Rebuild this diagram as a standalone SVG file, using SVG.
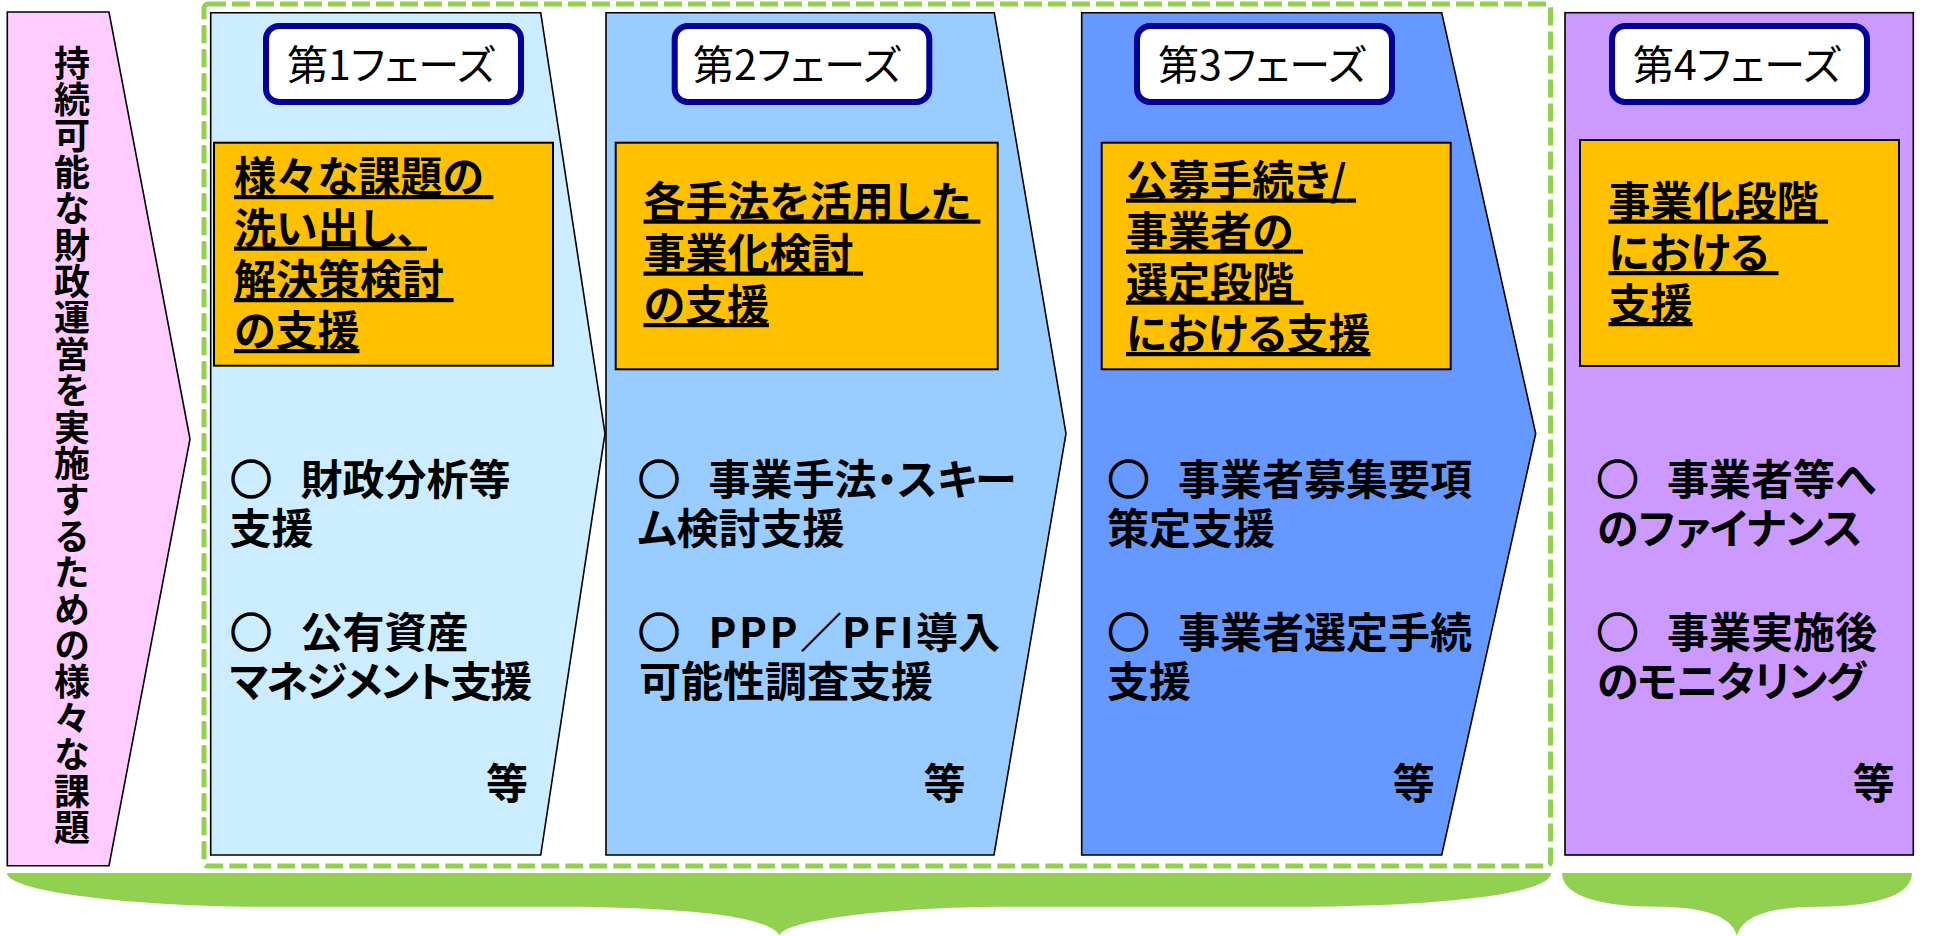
<svg xmlns="http://www.w3.org/2000/svg" width="1951" height="936" viewBox="0 0 1951 936">
<style>
text{font-family:"Noto Sans CJK JP","Noto Sans CJK SC",sans-serif;fill:#000}
.shape{stroke:#000;stroke-width:1.6}
.lbl{fill:#fff;stroke:#000099;stroke-width:6}
.lt{font-size:41px;font-weight:400;text-anchor:middle;font-feature-settings:"palt"}
.ob{fill:#FFC000;stroke:#000;stroke-width:2}
.ot{font-size:42px;font-weight:700;text-decoration:underline;font-feature-settings:"palt"}
.bt{font-size:42px;font-weight:700}
.pa{font-feature-settings:"palt"}
.sp{font-size:28.5px}
.circ{stroke:#000;stroke-width:1.6}
.lat{letter-spacing:2.5px}
.etc{font-size:42px;font-weight:700;text-anchor:end}
.vt{font-size:36px;font-weight:700;writing-mode:vertical-rl;letter-spacing:0.4px}
.brace{fill:#92D050}
.frame{fill:none;stroke:#92D050;stroke-width:5;stroke-dasharray:18 6}
</style>
<rect x="0" y="0" width="1951" height="936" fill="#fff"/>

<g id="issues">
<polygon class="shape" fill="#FFCCFF" points="7.3,12 109,12 190,439 109,865.7 7.3,865.7"/>
<text class="vt" x="72" y="45">持続可能な財政運営を実施するための様々な課題</text>
</g>

<g id="grouping">
<rect class="frame" x="204" y="4" width="1346.5" height="862" rx="4"/>
<path class="brace" d="M7,873 H1551 C1551,896 1420,906.7 1300,906.7 H1010 C880,906.7 778,922 780,936 C772,918 700,906.7 550,906.7 H258 C138,906.7 7,892 7,873 Z"/>
<path class="brace" d="M1562,873 H1912 C1912,897 1870,906.7 1818,906.7 C1770,906.7 1742,916 1737,936 C1732,916 1704,906.7 1656,906.7 C1604,906.7 1562,897 1562,873 Z"/>
</g>

<g id="phase1">
<polygon class="shape" fill="#CCECFF" points="210.7,12.7 540.7,12.7 605,433.5 540.7,855 210.7,855"/>
<rect class="lbl" x="266" y="26" width="255" height="76" rx="13"/>
<text class="lt" x="391" y="80">第1フェーズ</text>
<rect class="ob" x="214" y="142.7" width="339" height="223"/>
<text class="ot">
<tspan x="234" y="192">様々な課題の</tspan>
<tspan x="234" y="243.5">洗い出し、</tspan>
<tspan x="234" y="295">解決策検討</tspan>
<tspan x="234" y="346">の支援</tspan>
</text>
<text class="bt"><tspan x="230" y="494.5"><tspan class="circ">○</tspan><tspan class="sp">　</tspan><tspan class="pa">財政分析等</tspan></tspan><tspan class="pa" x="229.5" y="543.5">支援</tspan></text>
<text class="bt"><tspan x="230" y="647.5"><tspan class="circ">○</tspan><tspan class="sp">　</tspan><tspan class="pa">公有資産</tspan></tspan><tspan class="pa" x="229.5" y="697" letter-spacing="-2">マネジメント支援</tspan></text>
<text class="etc" x="528" y="799">等</text>
</g>

<g id="phase2">
<polygon class="shape" fill="#99CCFF" points="606,12.7 994.3,12.7 1066,433.5 994,855 606,855"/>
<rect class="lbl" x="674.7" y="26" width="254.6" height="76" rx="13"/>
<text class="lt" x="797" y="80">第2フェーズ</text>
<rect class="ob" x="615.7" y="142.7" width="382" height="226.6"/>
<text class="ot">
<tspan x="643.5" y="216.5">各手法を活用した</tspan>
<tspan x="643.5" y="268.5">事業化検討</tspan>
<tspan x="643.5" y="320">の支援</tspan>
</text>
<text class="bt"><tspan x="638" y="494.5"><tspan class="circ">○</tspan><tspan class="sp">　</tspan><tspan class="pa">事業手法・スキー</tspan></tspan><tspan class="pa" x="638" y="543.5">ム検討支援</tspan></text>
<text class="bt"><tspan x="638" y="647.5"><tspan class="circ">○</tspan><tspan class="sp">　</tspan><tspan class="lat">PPP</tspan>／<tspan class="lat">PFI</tspan>導入</tspan><tspan class="pa" x="639" y="697">可能性調査支援</tspan></text>
<text class="etc" x="965.5" y="799">等</text>
</g>

<g id="phase3">
<polygon class="shape" fill="#6699FF" points="1081.7,12.7 1441.7,12.7 1535.7,433.5 1441.7,855 1081.7,855"/>
<rect class="lbl" x="1137" y="26" width="255" height="76" rx="13"/>
<text class="lt" x="1262" y="80">第3フェーズ</text>
<rect class="ob" x="1101.7" y="142.7" width="349" height="226.6"/>
<text class="ot">
<tspan x="1126" y="195.5">公募手続き/</tspan>
<tspan x="1126" y="246.5">事業者の</tspan>
<tspan x="1126" y="297.5">選定段階</tspan>
<tspan x="1126" y="349">における支援</tspan>
</text>
<text class="bt"><tspan x="1107.5" y="494.5"><tspan class="circ">○</tspan><tspan class="sp">　</tspan><tspan class="pa">事業者募集要項</tspan></tspan><tspan class="pa" x="1107" y="543.5">策定支援</tspan></text>
<text class="bt"><tspan x="1107.5" y="647.5"><tspan class="circ">○</tspan><tspan class="sp">　</tspan><tspan class="pa">事業者選定手続</tspan></tspan><tspan class="pa" x="1107" y="697">支援</tspan></text>
<text class="etc" x="1434.8" y="799">等</text>
</g>

<g id="phase4">
<rect class="shape" fill="#CC99FF" x="1565" y="12.7" width="348.3" height="842.3" stroke-width="2"/>
<rect class="lbl" x="1612" y="26" width="255" height="76" rx="13"/>
<text class="lt" x="1737" y="80">第4フェーズ</text>
<rect class="ob" x="1580" y="140" width="319" height="226"/>
<text class="ot">
<tspan x="1608.5" y="216.5">事業化段階</tspan>
<tspan x="1608.5" y="268">における</tspan>
<tspan x="1608.5" y="319">支援</tspan>
</text>
<text class="bt"><tspan x="1596.5" y="494.5"><tspan class="circ">○</tspan><tspan class="sp">　</tspan><tspan class="pa">事業者等へ</tspan></tspan><tspan class="pa" x="1597" y="543.5">のファイナンス</tspan></text>
<text class="bt"><tspan x="1596.5" y="647.5"><tspan class="circ">○</tspan><tspan class="sp">　</tspan><tspan class="pa">事業実施後</tspan></tspan><tspan class="pa" x="1597" y="697" letter-spacing="-1">のモニタリング</tspan></text>
<text class="etc" x="1894.8" y="799">等</text>
</g>
</svg>
